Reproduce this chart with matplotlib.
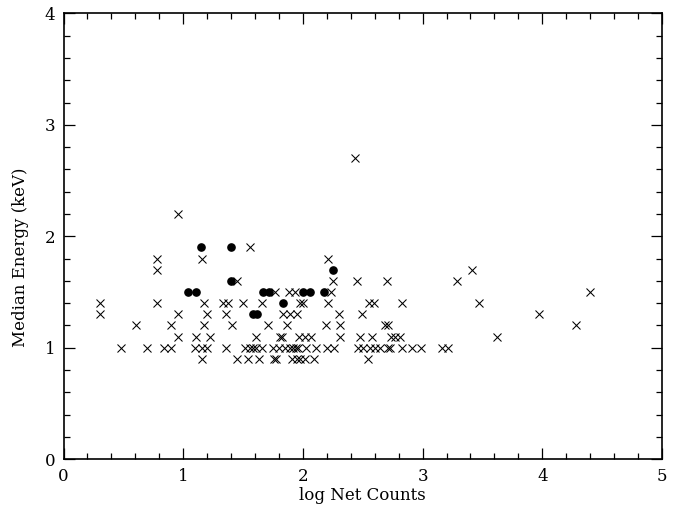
import matplotlib
matplotlib.use('Agg')
import matplotlib.pyplot as plt
from matplotlib.ticker import MultipleLocator
import numpy as np

# crosses: (log net counts, median energy) grouped by energy row
cross_e27_x = [2.435]
cross_e22_x = [0.96]
cross_e19_x = [1.56]
cross_e18_x = [0.78, 1.155, 2.21]
cross_e17_x = [0.78, 3.41]
cross_e16_x = [1.45, 2.25, 2.45, 2.70, 3.285]
cross_e15_x = [1.77, 1.885, 1.93, 2.235, 4.40]
cross_e14_x = [0.305, 0.78, 1.17, 1.335, 1.375, 1.50, 1.655, 1.975, 2.00,
               2.21, 2.555, 2.595, 2.825, 3.47]
cross_e13_x = [0.305, 0.957, 1.20, 1.36, 1.835, 1.89, 1.95, 2.30, 2.49, 3.97]
cross_e12_x = [0.606, 0.90, 1.17, 1.41, 1.71, 1.87, 2.19, 2.31, 2.69, 2.71,
               4.28]
cross_e11_x = [0.957, 1.11, 1.22, 1.61, 1.81, 1.825, 1.97, 2.02, 2.065, 2.31,
               2.48, 2.575, 2.74, 2.77, 2.81, 3.62]
cross_e10_x = [0.478, 0.70, 0.84, 0.90, 1.10, 1.16, 1.20, 1.36, 1.52, 1.56,
               1.585, 1.61, 1.66, 1.75, 1.80, 1.85, 1.89, 1.92, 1.945, 1.955,
               2.03, 2.11, 2.20, 2.26, 2.46, 2.505, 2.56, 2.60, 2.645, 2.715,
               2.725, 2.825, 2.91, 2.99, 3.16, 3.21]
cross_e09_x = [1.155, 1.45, 1.54, 1.635, 1.76, 1.775, 1.905, 1.95, 1.975,
               2.02, 2.09, 2.54]

cross_rows = [(2.7, cross_e27_x), (2.2, cross_e22_x), (1.9, cross_e19_x),
              (1.8, cross_e18_x), (1.7, cross_e17_x), (1.6, cross_e16_x),
              (1.5, cross_e15_x), (1.4, cross_e14_x), (1.3, cross_e13_x),
              (1.2, cross_e12_x), (1.1, cross_e11_x), (1.0, cross_e10_x),
              (0.9, cross_e09_x)]

# filled circles
dot_x = [1.04, 1.11, 1.15, 1.40, 1.40, 1.585, 1.62, 1.67, 1.72, 1.83,
         2.00, 2.06, 2.18, 2.25]
dot_y = [1.5, 1.5, 1.9, 1.9, 1.6, 1.3, 1.3, 1.5, 1.5, 1.4,
         1.5, 1.5, 1.5, 1.7]

plt.rcParams['font.family'] = 'DejaVu Serif'
plt.rcParams['font.size'] = 11

fig = plt.figure(figsize=(6.8, 5.08), dpi=100)
ax = fig.add_axes([0.0934, 0.0959, 0.8801, 0.8779])

cx = []
cy = []
for e, xs in cross_rows:
    cx.extend(xs)
    cy.extend([e] * len(xs))

ax.plot(cx, cy, linestyle='none', marker='x', markersize=6.2,
        markeredgewidth=0.75, color='black')
ax.plot(dot_x, dot_y, linestyle='none', marker='o', markersize=5.2,
        color='black')

ax.set_xlim(0, 5)
ax.set_ylim(0, 4)
ax.xaxis.set_major_locator(MultipleLocator(1))
ax.xaxis.set_minor_locator(MultipleLocator(0.2))
ax.yaxis.set_major_locator(MultipleLocator(1))
ax.yaxis.set_minor_locator(MultipleLocator(0.2))
ax.tick_params(which='both', direction='in', top=True, right=True,
               width=0.9, labelsize=12)
ax.tick_params(which='major', length=8, pad=6)
ax.tick_params(which='minor', length=4)
for sp in ax.spines.values():
    sp.set_linewidth(1.2)

ax.set_xlabel('log Net Counts', fontsize=12, labelpad=2)
ax.set_ylabel('Median Energy (keV)', fontsize=12)
ax.yaxis.set_label_coords(-0.058, 0.454)

fig.savefig('out.png', dpi=100)
